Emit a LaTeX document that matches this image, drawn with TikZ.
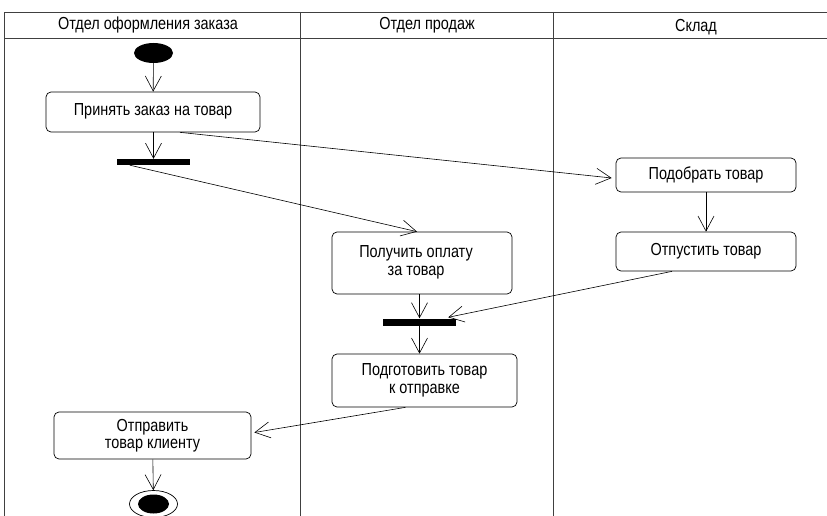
\documentclass[tikz,border=0pt]{standalone}
\usepackage{fontspec}
\setmainfont[FakeStretch=0.83]{Liberation Sans}
\usetikzlibrary{arrows.meta,calc,shapes.geometric}
\begin{document}
\begin{tikzpicture}[x=1pt,y=-1pt,
  every node/.style={font=\fontsize{17.4}{17.5}\selectfont},
  frame/.style={line width=0.9pt,draw=black!75},
  act/.style={draw,rounded corners=5pt,line width=0.7pt,inner sep=0pt,align=center},
  bar/.style={fill=black,draw=none,inner sep=0pt},
  flow/.style={line width=0.6pt,-{Straight Barb[length=15pt,width=16pt,line width=0.6pt]}}]
\useasboundingbox (0,0) rectangle (827,516);
% swimlane frame
\draw[frame] (4,516) -- (4,12) -- (827,12);
\draw[frame] (4,38) -- (827,38);
\draw[frame] (300,12) -- (300,516);
\draw[frame] (553,12) -- (553,516);
\node (h1) at (148,25) {Отдел оформления заказа};
\node (h2) at (427,25) {Отдел продаж};
\node (h3) at (696,27) {Склад};
% start / end
\node[ellipse,fill=black,minimum width=39pt,minimum height=20pt,inner sep=0pt] (start) at (153.5,53) {};
\node[ellipse,draw,line width=0.7pt,minimum width=48pt,minimum height=27pt,inner sep=0pt] (stop) at (153.5,504) {};
\node[ellipse,fill=black,minimum width=31pt,minimum height=19pt,inner sep=0pt] (stopin) at (stop) {};
% actions
\node[act,minimum width=214pt,minimum height=40pt] (take) at (153,112) {\raisebox{5pt}{Принять заказ на товар}};
\node[act,minimum width=180pt,minimum height=34pt] (pick) at (706,175) {\raisebox{3pt}{Подобрать товар}};
\node[act,minimum width=180pt,minimum height=39pt] (release) at (706,251.5) {Отпустить товар};
\node[act,minimum width=180pt,minimum height=62pt] (pay) at (422,263) {\raisebox{7pt}{\begin{tabular}{@{}c@{}}Получить оплату\\за товар\end{tabular}}\hspace*{12pt}};
\node[act,minimum width=185pt,minimum height=53pt] (prep) at (424.5,380.5) {Подготовить товар\\к отправке};
\node[act,minimum width=197pt,minimum height=47pt] (send) at (152.5,435.5) {Отправить\\товар клиенту};
% fork and join bars
\node[bar,minimum width=73pt,minimum height=6pt] (fork) at (153.5,162) {};
\node[bar,minimum width=73pt,minimum height=7pt] (join) at (419.5,322) {};
% flows
\draw[flow] (start) -- (take);
\draw[flow] (take.south -| fork) -- (fork.north);
\draw[flow] ($(take.south)+(27,0)$) -- ($(pick.west)+(-4,3)$);
\draw[flow] ($(fork.south west)+(13,0)$) -- ($(pay.north)+(-5,0)$);
\draw[flow] (pick) -- (release);
\draw[flow] (pay.south -| join) -- (join.north);
\draw[flow] ($(release.south)+(-34,0)$) -- ($(join.north east)+(-8,-1)$);
\draw[flow] (join.south) -- (join.south |- prep.north);
\draw[flow] ($(prep.south)+(-19,0)$) -- ($(send.east)+(3,-3)$);
\draw[flow] (send) -- (stop);
\end{tikzpicture}
\end{document}
